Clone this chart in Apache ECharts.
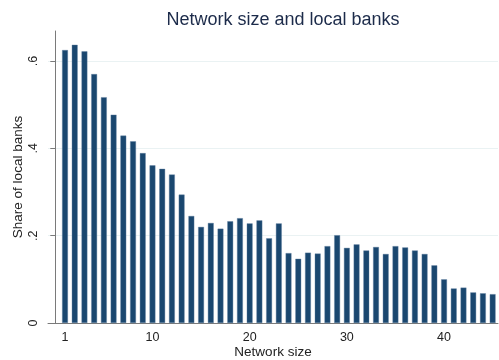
<!DOCTYPE html>
<html>
<head>
<meta charset="utf-8">
<title>Network size and local banks</title>
<script src="https://cdn.jsdelivr.net/npm/echarts@6/dist/echarts.min.js"></script>
<style>
  html, body { margin: 0; padding: 0; background: #fff; }
  #chart { width: 499px; height: 360px; }
</style>
</head>
<body>
<div id="chart"></div>
<script>
// Network sizes 1..45 and share of local banks at each size
const networkSize = [
  1, 2, 3, 4, 5, 6, 7, 8, 9, 10,
  11, 12, 13, 14, 15, 16, 17, 18, 19, 20,
  21, 22, 23, 24, 25, 26, 27, 28, 29, 30,
  31, 32, 33, 34, 35, 36, 37, 38, 39, 40,
  41, 42, 43, 44, 45
];
const localShare = [
  0.625, 0.637, 0.622, 0.570, 0.517, 0.477, 0.429, 0.416, 0.389, 0.361,
  0.353, 0.340, 0.294, 0.245, 0.220, 0.229, 0.216, 0.233, 0.240, 0.228,
  0.235, 0.194, 0.228, 0.160, 0.147, 0.161, 0.159, 0.176, 0.201, 0.172,
  0.180, 0.166, 0.174, 0.158, 0.176, 0.173, 0.166, 0.158, 0.132, 0.100,
  0.079, 0.081, 0.070, 0.068, 0.066
];
const xTickValues = [1, 10, 20, 30, 40];
const yTickValues = [0, 0.2, 0.4, 0.6];

const fontFamily = 'Liberation Sans, Arial, Helvetica, sans-serif';
const chart = echarts.init(document.getElementById('chart'));

chart.setOption({
  animation: false,
  backgroundColor: '#ffffff',
  title: {
    text: 'Network size and local banks',
    left: 278,
    top: 6,
    textAlign: 'center',
    textStyle: { fontFamily, fontSize: 18, fontWeight: 'normal', color: '#1c2b4a' }
  },
  grid: { left: 48, right: 1, top: 31, bottom: 37, outerBoundsMode: 'none' },
  xAxis: {
    type: 'value',
    min: -0.75,
    max: 45.55,
    name: 'Network size',
    nameLocation: 'middle',
    nameGap: 22,
    nameMoveOverlap: false,
    nameTextStyle: { fontFamily, fontSize: 13.5, color: '#222' },
    axisLine: { show: true, onZero: false, lineStyle: { color: '#7a7a7a', width: 1 } },
    axisTick: { show: false, customValues: xTickValues },
    axisLabel: {
      customValues: xTickValues,
      fontFamily, fontSize: 12.5, color: '#222', margin: 8
    },
    splitLine: { show: false }
  },
  yAxis: {
    type: 'value',
    min: 0,
    max: 0.6687,
    name: 'Share of local banks',
    nameLocation: 'middle',
    nameRotate: 90,
    nameGap: 23,
    nameMoveOverlap: false,
    nameTextStyle: { fontFamily, fontSize: 13.5, color: '#222' },
    axisLine: { show: true, lineStyle: { color: '#7a7a7a', width: 1 } },
    axisTick: { show: true, length: 5, customValues: yTickValues, lineStyle: { color: '#7a7a7a' } },
    axisLabel: {
      customValues: yTickValues,
      rotate: 90,
      fontFamily, fontSize: 12.5, color: '#222', margin: 8,
      formatter: v => (v === 0 ? '0' : String(Number(v.toFixed(1))).replace(/^0/, ''))
    },
    splitLine: { show: true, customValues: yTickValues, lineStyle: { color: '#eaf2f3', width: 1 } }
  },
  series: [{
    type: 'bar',
    barWidth: 5.8,
    data: networkSize.map((n, i) => [n, localShare[i]]),
    itemStyle: { color: '#1a476f', borderColor: '#5f7f9f', borderWidth: 0.4 }
  }]
});
</script>
</body>
</html>
